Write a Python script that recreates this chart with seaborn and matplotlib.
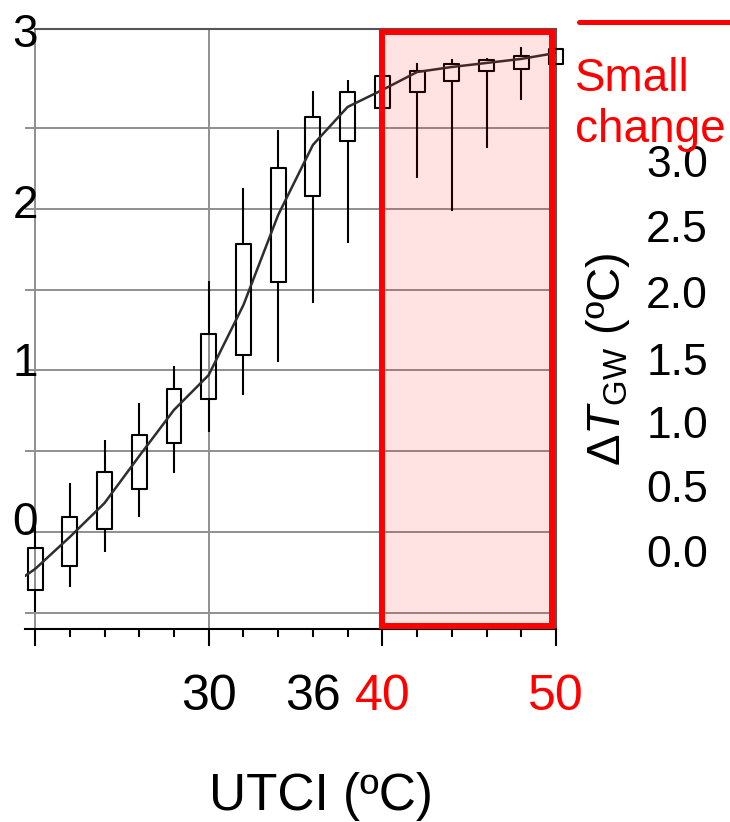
import numpy as np
import pandas as pd
import matplotlib
matplotlib.use("Agg")
import matplotlib.pyplot as plt
import seaborn as sns
from matplotlib.patches import Rectangle
from matplotlib.lines import Line2D

# ---- data -------------------------------------------------------------
utci_bins = [20, 22, 24, 26, 28, 30, 32, 34, 36, 38, 40, 42, 44, 46, 48, 50]
whisker_high = [0.532, 0.804, 1.070, 1.299, 1.528, 2.054, 2.629, 2.988,
                3.229, 3.297, 3.359, 3.402, 3.427, 3.433, 3.501, 3.497]
box_high = [0.402, 0.594, 0.872, 1.101, 1.386, 1.726, 2.282, 2.753,
            3.068, 3.223, 3.322, 3.353, 3.396, 3.421, 3.445, 3.489]
box_median = [0.272, 0.470, 0.680, 0.971, 1.256, 1.472, 1.905, 2.462,
              2.895, 3.130, 3.235, 3.346, 3.377, 3.402, 3.427, 3.464]
box_low = [0.142, 0.291, 0.520, 0.767, 1.052, 1.324, 1.596, 2.047,
           2.579, 2.920, 3.124, 3.223, 3.291, 3.353, 3.365, 3.396]
whisker_low = [0.006, 0.161, 0.377, 0.594, 0.866, 1.120, 1.348, 1.553,
               1.918, 2.289, 2.864, 2.691, 2.487, 2.876, 3.173, 3.390]

mean_utci = [19.42, 20, 22, 24, 26, 28, 30, 32, 34, 36, 38, 40, 42, 44, 46, 48, 50]
mean_dT = [0.229, 0.272, 0.470, 0.680, 0.971, 1.256, 1.472, 1.905, 2.462,
           2.895, 3.130, 3.235, 3.346, 3.377, 3.402, 3.427, 3.464]

x_label_values = [30, 36, 40, 50]
x_label_text = ["30", "36", "40", "50"]
x_label_colors = ["black", "black", "red", "red"]

left_labels = ["3", "2", "1", "0"]
right_labels = ["3.0", "2.5", "2.0", "1.5", "1.0", "0.5", "0.0"]

highlight_range = (40, 49.75)

# ---- style ------------------------------------------------------------
sns.set_style("white")
plt.rcParams["font.family"] = ["Liberation Sans", "DejaVu Sans"]
plt.rcParams["text.color"] = "black"
plt.rcParams["mathtext.fontset"] = "custom"
plt.rcParams["mathtext.rm"] = "Liberation Sans"
plt.rcParams["mathtext.it"] = "Liberation Sans:italic"
plt.rcParams["mathtext.bf"] = "Liberation Sans:bold"

W, H = 730, 822
fig = plt.figure(figsize=(W / 100, H / 100), dpi=100)


def fx(px):
    return px / W


def fy(py):
    return 1 - py / H


ax = fig.add_axes([fx(25), fy(629), fx(556) - fx(25), fy(29) - fy(629)])

# five-number summaries expanded so the box stats come out exactly
rows = []
for x, a, b, c, d, e in zip(utci_bins, whisker_low, box_low, box_median,
                            box_high, whisker_high):
    for v in (a, b, c, d, e):
        rows.append({"UTCI": x, "dT": v})
df = pd.DataFrame(rows)

sns.boxplot(data=df, x="UTCI", y="dT", native_scale=True, width=0.43,
            whis=(0, 100), fill=False, color="black", linewidth=1.5,
            showcaps=False, showfliers=False,
            medianprops={"visible": False}, ax=ax, zorder=3)
for art in list(ax.patches) + list(ax.lines):
    art.set_clip_on(False)

sns.lineplot(x=mean_utci, y=mean_dT, color="#2e2e2e", linewidth=1.8,
             ax=ax, zorder=4)

ax.set_xlim(19.42, 50)
ax.set_ylim(-0.099, 3.612)
ax.set_xlabel("")
ax.set_ylabel("")

# ticks and grid
ax.set_xticks([20, 30, 40, 50])
ax.set_xticks(np.arange(20, 51, 2), minor=True)
ax.set_yticks(np.arange(0, 3.01, 0.5))
ax.tick_params(axis="x", which="major", direction="out", length=12.5,
               width=1.5, color="black", labelbottom=False, bottom=True)
ax.tick_params(axis="x", which="minor", direction="out", length=5.5,
               width=1.5, color="black", bottom=True)
ax.tick_params(axis="y", length=0, labelleft=False)
ax.grid(True, which="major", color="#8f8f8f", linewidth=1.4)
ax.set_axisbelow(True)

ax.spines["left"].set_visible(False)
ax.spines["bottom"].set_color("black")
ax.spines["bottom"].set_linewidth(1.5)
ax.spines["top"].set_color("#555555")
ax.spines["top"].set_linewidth(1.5)
ax.spines["top"].set_bounds(20, 50)
ax.spines["right"].set_color("#555555")
ax.spines["right"].set_linewidth(1.5)

# highlighted heat range
span = Rectangle((highlight_range[0], 0.005),
                 highlight_range[1] - highlight_range[0], 0.99,
                 transform=ax.get_xaxis_transform(),
                 facecolor=(1, 0, 0, 0.115), edgecolor="red",
                 linewidth=4.3, zorder=6, clip_on=False)
ax.add_patch(span)

# x tick labels
for v, t, c in zip(x_label_values, x_label_text, x_label_colors):
    xp = ax.transData.transform((v, 0))[0]
    xf = fig.transFigure.inverted().transform((xp, 0))[0]
    fig.text(xf, fy(710), t, color=c, fontsize=36, ha="center",
             va="baseline")

fig.text(fx(321), fy(810), "UTCI (ºC)", fontsize=37, ha="center",
         va="baseline", color="black")

# left-hand labels
for t, py in zip(left_labels, [47, 218, 376, 535]):
    fig.text(fx(25), fy(py), t, fontsize=33, ha="center", va="baseline",
             color="black")

# right-hand scale
for t, py in zip(right_labels, [177, 242, 308, 375, 438, 502, 567]):
    fig.text(fx(708), fy(py), t, fontsize=32, ha="right", va="baseline",
             color="black")

fig.text(fx(608), fy(359), r"$\Delta\mathit{T}_{\mathrm{GW}}$ (ºC)",
         fontsize=34, rotation=90, ha="center", va="center", color="black")

fig.text(fx(575), fy(142), "Small\nchange", color="red", fontsize=33,
         ha="left", va="baseline", linespacing=1.2)
fig.add_artist(Line2D([fx(579), fx(730)], [fy(22), fy(22)], color="red",
                      linewidth=3.6, transform=fig.transFigure))

fig.savefig("out.png", dpi=100)
